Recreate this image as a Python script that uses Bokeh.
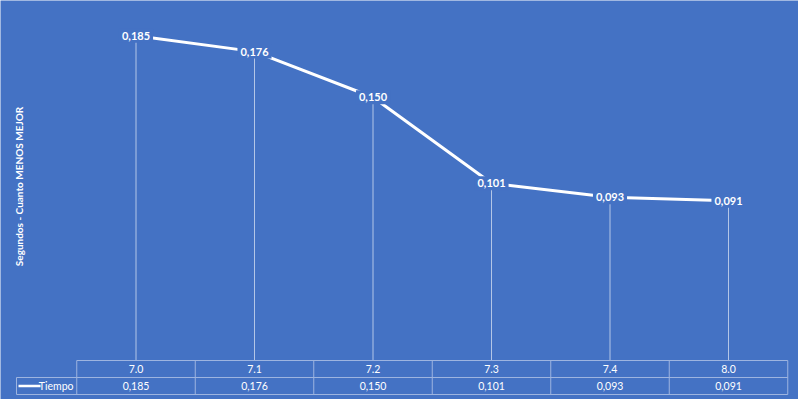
import numpy as np
from bokeh.plotting import figure
from bokeh.models import Range1d, Label, ColumnDataSource
from bokeh.core.properties import value
from bokeh.embed import file_html
from bokeh.resources import INLINE

categories = ["7.0", "7.1", "7.2", "7.3", "7.4", "8.0"]
tiempo = [0.185, 0.176, 0.150, 0.101, 0.093, 0.091]
series_name = "Tiempo"
y_title = "Segundos - Cuanto MENOS MEJOR"

W, H = 798, 399
BG = "#4472C4"
GRIDC = "#9DB4E0"
FONT = "Lato"

# layout (pixels)
col_w = 118.5
first_center = 135.5
zero_px = 360.0
px_per_unit = 1755.0
row_h = 17.0

x_start = -first_center / col_w
x_end = (W - first_center) / col_w
y_start = -(H - zero_px) / px_per_unit
y_end = zero_px / px_per_unit

p = figure(width=W, height=H, output_backend="svg", toolbar_location=None,
           x_range=Range1d(x_start, x_end), y_range=Range1d(y_start, y_end),
           min_border=0, background_fill_color=BG, border_fill_color=BG,
           outline_line_color=None)
p.axis.visible = False
p.grid.visible = False

n = len(categories)
idx = np.arange(n)
labels = [f"{v:.3f}".replace(".", ",") for v in tiempo]
src = ColumnDataSource(dict(x=idx, y=tiempo, lab=labels, cat=categories))

# drop lines
p.segment(x0="x", y0=0, x1="x", y1="y", source=src, line_color="white", line_alpha=0.6, line_width=1)
# main line
p.line("x", "y", source=src, line_color="white", line_width=3)
# data labels with background
p.text("x", "y", text="lab", source=src, text_color="white", text_font=value(FONT),
       text_font_style="bold", text_font_size="11px", text_align="center", text_baseline="middle",
       background_fill_color=BG, padding=3)

# data table
r1 = -row_h / px_per_unit
r2 = -2 * row_h / px_per_unit
legend_left = (16 - first_center) / col_w
bounds = idx - 0.5
last = n - 0.5
p.segment(x0=[-0.5, legend_left, legend_left], y0=[0, r1, r2], x1=[last, last, last], y1=[0, r1, r2],
          line_color=GRIDC, line_width=1)
p.segment(x0=list(bounds) + [last], y0=0, x1=list(bounds) + [last], y1=r2, line_color=GRIDC, line_width=1)
p.segment(x0=[legend_left], y0=[r1], x1=[legend_left], y1=[r2], line_color=GRIDC, line_width=1)

p.text(idx, r1 / 2, text=categories, text_color="white", text_font=value(FONT),
       text_font_size="10.5px", text_align="center", text_baseline="middle")
p.text(idx, (r1 + r2) / 2, text=labels, text_color="white", text_font=value(FONT),
       text_font_size="10.5px", text_align="center", text_baseline="middle")

# legend key
lx0 = (18 - first_center) / col_w
lx1 = (40 - first_center) / col_w
p.line([lx0, lx1], [(r1 + r2) / 2] * 2, line_color="white", line_width=2.5)
p.text([(73 - first_center) / col_w], [(r1 + r2) / 2], text=[series_name], text_color="white",
       text_font=value(FONT), text_font_size="10.5px", text_align="right", text_baseline="middle")

# y axis title
p.add_layout(Label(x=18, y=H - 186, x_units="screen", y_units="screen", text=y_title, angle=np.pi / 2,
                   text_color="white", text_font=FONT, text_font_style="bold", text_font_size="10px",
                   text_align="center", text_baseline="middle"))

open("out.html", "w").write(file_html(p, INLINE))
